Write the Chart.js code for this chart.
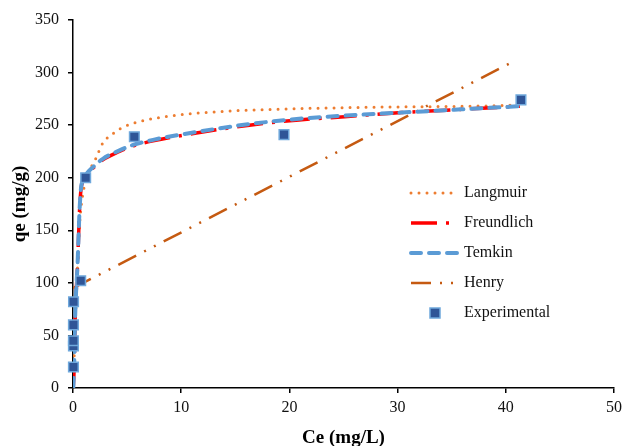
<!DOCTYPE html>
<html>
<head>
<meta charset="utf-8">
<script src="https://cdn.jsdelivr.net/npm/chart.js@4.4.1/dist/chart.umd.min.js"></script>
<style>
  html, body { margin: 0; padding: 0; background: #fff; }
  #wrap { position: relative; width: 627px; height: 446px; }
</style>
</head>
<body>
<div id="wrap"><canvas id="chart" width="627" height="446"></canvas></div>
<script>
// Experimental equilibrium points
const expCe = [0.04, 0.04, 0.04, 0.04, 0.05, 0.71, 1.17, 5.67, 19.5, 41.4];
const expQe = [20, 40, 45, 60, 82, 102, 200, 239, 241, 274];

// Fitted isotherm curves (values along each curve)
const langCe = [0.02, 0.14, 0.28, 0.46, 0.64, 0.92, 1.38, 2.1, 2.76, 3.7, 4.6, 6.4, 9.2, 13.8, 18.4, 27.6, 36.8, 41.2];
const langQe = [0, 40, 80, 125, 160, 185, 203, 218, 233, 242, 248, 254, 259, 263, 265, 267, 268, 269];

const freuCe = [0.02, 0.09, 0.14, 0.18, 0.28, 0.41, 0.5, 0.6, 0.74, 0.92, 1.2, 1.84, 2.76, 4.3, 5.5, 7.4, 11.7, 16.3, 20.9, 25.1, 30.4, 35.9, 41.3];
const freuQe = [0, 14, 33, 58, 88, 114, 140, 168, 189, 197, 202, 209, 217, 225, 230, 235, 243, 250, 255, 258, 262, 265, 268];

const temkCe = [0.02, 0.09, 0.14, 0.18, 0.28, 0.41, 0.5, 0.6, 0.74, 0.92, 1.2, 1.84, 2.76, 4.3, 5.5, 7.4, 11.7, 16.3, 20.9, 25.1, 30.4, 35.9, 41.3];
const temkQe = [0, 15, 35, 60, 90, 115, 140, 168, 190, 198, 203, 210, 218, 226, 231, 236, 244, 251, 256, 259, 262, 265, 268];

const henrCe = [0, 40.6];
const henrQe = [95, 310];

const seriesNames = ['Langmuir', 'Freundlich', 'Temkin', 'Henry', 'Experimental'];

const xTicks = [0, 10, 20, 30, 40, 50];
const yTicks = [0, 50, 100, 150, 200, 250, 300, 350];

const toPoints = (xs, ys) => xs.map((x, i) => ({ x: x, y: ys[i] }));

const serif = "'Liberation Serif', 'Times New Roman', serif";

// Legend drawn inside the plot, to the right of the curves
const insideLegend = {
  id: 'insideLegend',
  afterDraw(chart) {
    const ctx = chart.ctx;
    const rows = [193, 223, 253, 283, 313];
    ctx.save();
    chart.data.datasets.forEach((ds, r) => {
      const y = rows[r];
      if (ds.showLine) {
        ctx.beginPath();
        ctx.setLineDash(ds.borderDash || []);
        ctx.lineCap = ds.borderCapStyle || 'butt';
        ctx.lineWidth = ds.borderWidth;
        ctx.strokeStyle = ds.borderColor;
        ctx.moveTo(411, y);
        ctx.lineTo(457, y);
        ctx.stroke();
      } else {
        ctx.setLineDash([]);
        ctx.fillStyle = ds.backgroundColor;
        ctx.strokeStyle = ds.borderColor;
        ctx.lineWidth = ds.borderWidth;
        ctx.fillRect(430, y - 5, 10, 10);
        ctx.strokeRect(430, y - 5, 10, 10);
      }
      ctx.setLineDash([]);
      ctx.fillStyle = '#111';
      ctx.font = '16px ' + serif;
      ctx.textBaseline = 'middle';
      ctx.textAlign = 'left';
      ctx.fillText(ds.label, 464, y);
    });
    ctx.restore();
  }
};

new Chart(document.getElementById('chart'), {
  type: 'scatter',
  data: {
    datasets: [
      {
        label: seriesNames[0],
        data: toPoints(langCe, langQe),
        showLine: true,
        pointRadius: 0,
        borderColor: '#ED7D31',
        borderWidth: 3,
        borderDash: [0, 8],
        borderCapStyle: 'round',
        cubicInterpolationMode: 'monotone',
        order: 3
      },
      {
        label: seriesNames[1],
        data: toPoints(freuCe, freuQe),
        showLine: true,
        pointRadius: 0,
        borderColor: '#FF0000',
        borderWidth: 3.5,
        borderDash: [26, 9, 3, 9],
        borderCapStyle: 'butt',
        cubicInterpolationMode: 'monotone',
        order: 2
      },
      {
        label: seriesNames[2],
        data: toPoints(temkCe, temkQe),
        showLine: true,
        pointRadius: 0,
        borderColor: '#5B9BD5',
        borderWidth: 4,
        borderDash: [10, 8],
        borderCapStyle: 'round',
        cubicInterpolationMode: 'monotone',
        order: 1
      },
      {
        label: seriesNames[3],
        data: toPoints(henrCe, henrQe),
        showLine: true,
        pointRadius: 0,
        borderColor: '#C55A11',
        borderWidth: 2.5,
        borderDash: [20, 9, 2, 9, 2, 9],
        borderCapStyle: 'butt',
        order: 4
      },
      {
        label: seriesNames[4],
        data: toPoints(expCe, expQe),
        showLine: false,
        pointStyle: 'rect',
        pointRadius: 6.8,
        pointHoverRadius: 6.8,
        backgroundColor: '#2F5597',
        borderColor: '#6FA8DC',
        borderWidth: 1.5,
        clip: false,
        order: 0
      }
    ]
  },
  options: {
    responsive: false,
    animation: false,
    devicePixelRatio: 1,
    layout: { padding: { top: 20, right: 9, left: 0, bottom: 0 } },
    plugins: {
      legend: { display: false },
      tooltip: { enabled: false }
    },
    scales: {
      x: {
        type: 'linear',
        min: 0,
        max: 50,
        afterBuildTicks: (scale) => { scale.ticks = xTicks.map(v => ({ value: v })); },
        afterFit: (scale) => { scale.height = 58; },
        border: { color: '#000', width: 1.5 },
        grid: { drawOnChartArea: false, drawTicks: true, tickLength: 5, color: '#000', lineWidth: 1.5 },
        ticks: { color: '#111', padding: 5, maxRotation: 0, font: { family: serif, size: 16 } },
        title: {
          display: true,
          text: 'Ce (mg/L)',
          color: '#000',
          padding: { top: 0, bottom: -2 },
          font: { family: serif, size: 19, weight: 'bold', lineHeight: 1 }
        }
      },
      y: {
        type: 'linear',
        min: 0,
        max: 350,
        afterBuildTicks: (scale) => { scale.ticks = yTicks.map(v => ({ value: v })); },
        afterFit: (scale) => { scale.width = 73; },
        border: { color: '#000', width: 1.5 },
        grid: { drawOnChartArea: false, drawTicks: true, tickLength: 5, color: '#000', lineWidth: 1.5 },
        ticks: { color: '#111', padding: 9, font: { family: serif, size: 16 } },
        title: {
          display: true,
          text: 'qe (mg/g)',
          color: '#000',
          padding: { top: 11, bottom: 0 },
          font: { family: serif, size: 19, weight: 'bold', lineHeight: 1 }
        }
      }
    }
  },
  plugins: [insideLegend]
});
</script>
</body>
</html>
